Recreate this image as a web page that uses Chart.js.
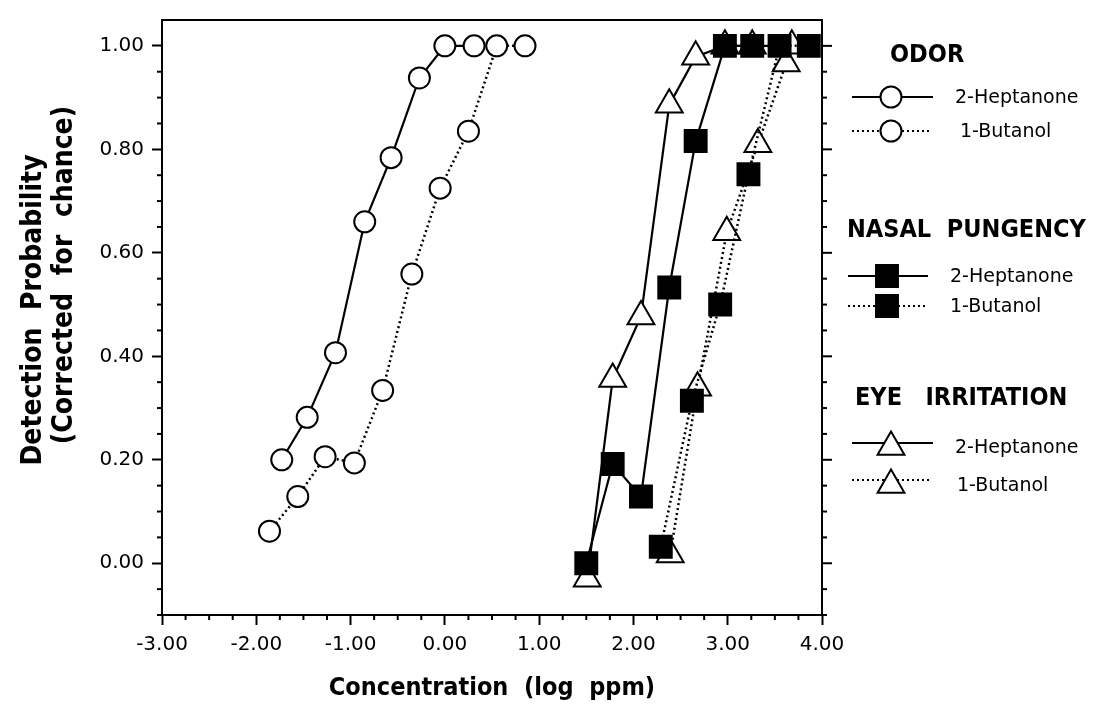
<!DOCTYPE html>
<html lang="en">
<head>
<meta charset="UTF-8" />
<title>Detection probability vs concentration</title>
<script src="https://cdn.jsdelivr.net/npm/chart.js"></script>
<style>
  body { margin: 0; background: #fff; }
  #wrap { width: 1093px; height: 709px; }
</style>
</head>
<body>
<div id="wrap"><canvas id="chart" width="1093" height="709"></canvas></div>

<script>
// values: [log ppm, probability]
const odorHeptanone = [[-1.73,0.20],[-1.46,0.282],[-1.16,0.407],[-0.85,0.66],[-0.57,0.784],[-0.27,0.938],[0.00,1.00],[0.31,1.00]];
const odorButanol   = [[-1.86,0.062],[-1.56,0.129],[-1.27,0.206],[-0.96,0.194],[-0.66,0.334],[-0.35,0.559],[-0.05,0.725],[0.25,0.835],[0.55,1.00],[0.85,1.00]];
const nasalHeptanone = [[1.50,0.00],[1.78,0.192],[2.08,0.129],[2.38,0.533],[2.66,0.816],[2.97,1.00],[3.26,1.00]];
const nasalButanol   = [[2.29,0.032],[2.62,0.314],[2.92,0.50],[3.22,0.752],[3.55,1.00],[3.86,1.00]];
const eyeHeptanone = [[1.51,-0.03],[1.78,0.356],[2.08,0.477],[2.38,0.886],[2.66,0.979],[2.97,1.00],[3.26,1.00],[3.68,1.00]];
const eyeButanol   = [[2.39,0.017],[2.68,0.339],[2.99,0.64],[3.32,0.81],[3.62,0.966]];

const yLabels = [0, 0.2, 0.4, 0.6, 0.8, 1.0];

const tickFont = { family: 'DejaVu Sans', size: 20 };
const boldFont = '"DejaVu Sans Condensed", "DejaVu Sans", sans-serif';

const pts = arr => arr.map(p => ({ x: p[0], y: p[1] }));

function series(label, data, style, dotted, order) {
  return {
    label,
    data: pts(data),
    pointStyle: style,
    pointRadius: style === 'rect' ? 15.5 : style === 'triangle' ? 15.5 : 10.5,
    pointBorderWidth: 2,
    pointBackgroundColor: style === 'rect' ? '#000' : '#fff',
    pointBorderColor: '#000',
    borderColor: '#000',
    borderWidth: dotted ? 2.5 : 2.2,
    borderDash: dotted ? [2, 3] : [],
    showLine: true,
    fill: false,
    tension: 0,
    clip: false,
    order
  };
}

function line(ctx, x1, y1, x2, y2) {
  ctx.beginPath(); ctx.moveTo(x1, y1); ctx.lineTo(x2, y2); ctx.stroke();
}

function vText(ctx, text, x, y) {
  ctx.save();
  ctx.translate(x, y);
  ctx.rotate(-Math.PI / 2);
  ctx.fillText(text, 0, 0);
  ctx.restore();
}

const decor = {
  id: 'decor',
  afterDraw(chart) {
    const { ctx, chartArea: a, scales: { x, y } } = chart;
    ctx.save();
    ctx.strokeStyle = '#000';
    ctx.lineWidth = 2;
    ctx.setLineDash([]);
    // frame top and right
    line(ctx, a.left - 1, a.top, a.right + 1, a.top);
    line(ctx, a.right, a.top, a.right, a.bottom + 1);

    // minor ticks on y (left), all ticks on right side
    for (let i = -2; i <= 20; i++) {
      const py = y.getPixelForValue(i * 0.05);
      const major = i % 4 === 0 && i >= 0;
      if (!major) line(ctx, a.left - 5, py, a.left, py);
      line(ctx, a.right, py, a.right + (major ? 10 : 5), py);
    }
    // minor ticks on x
    for (let i = -12; i <= 16; i++) {
      if (i % 4 === 0) continue;
      const px = x.getPixelForValue(i * 0.25);
      line(ctx, px, a.bottom, px, a.bottom + 5);
    }

    // axis titles
    ctx.fillStyle = '#000';
    ctx.textAlign = 'center';
    ctx.textBaseline = 'middle';
    ctx.font = 'bold 25px ' + boldFont;
    ctx.fillText('Concentration  (log  ppm)', (a.left + a.right) / 2, 688);
    ctx.font = 'bold 28px ' + boldFont;
    vText(ctx, 'Detection  Probability', 34, 310);
    vText(ctx, '(Corrected  for  chance)', 65, 275);

    // legend
    const groups = [
      { title: 'ODOR', tx: 890, ty: 55, style: 'circle', r: 10.5,
        rows: [{ y: 97, mx: 891, l: 852, r: 933, tx: 955, text: '2-Heptanone', dotted: false },
               { y: 131, mx: 891, l: 852, r: 931, tx: 960, text: '1-Butanol', dotted: true }] },
      { title: 'NASAL  PUNGENCY', tx: 847, ty: 230, style: 'rect', r: 15.5,
        rows: [{ y: 276, mx: 887, l: 848, r: 928, tx: 950, text: '2-Heptanone', dotted: false },
               { y: 306, mx: 887, l: 848, r: 926, tx: 950, text: '1-Butanol', dotted: true }] },
      { title: 'EYE   IRRITATION', tx: 855, ty: 398, style: 'triangle', r: 15.5,
        rows: [{ y: 443, my: 447, mx: 891, l: 852, r: 933, tx: 955, text: '2-Heptanone', dotted: false },
               { y: 480, my: 485, mx: 891, l: 852, r: 931, tx: 957, text: '1-Butanol', dotted: true }] }
    ];
    ctx.textAlign = 'left';
    groups.forEach(g => {
      ctx.font = 'bold 25px ' + boldFont;
      ctx.fillStyle = '#000';
      ctx.fillText(g.title, g.tx, g.ty);
      g.rows.forEach(rw => {
        ctx.lineWidth = 2;
        ctx.setLineDash(rw.dotted ? [2, 3] : []);
        line(ctx, rw.l, rw.y, rw.r, rw.y);
        ctx.setLineDash([]);
        ctx.fillStyle = g.style === 'rect' ? '#000' : '#fff';
        ctx.strokeStyle = '#000';
        Chart.helpers.drawPoint(ctx, { pointStyle: g.style, radius: g.r, borderWidth: 2, rotation: 0 },
          rw.mx, rw.my || rw.y);
        ctx.fillStyle = '#000';
        ctx.font = '19px "DejaVu Sans", sans-serif';
        ctx.fillText(rw.text, rw.tx, (rw.my || rw.y) + 1);
      });
    });
    ctx.restore();
  }
};

new Chart(document.getElementById('chart'), {
  type: 'scatter',
  data: {
    datasets: [
      series('Odor 2-Heptanone', odorHeptanone, 'circle', false, 3),
      series('Odor 1-Butanol', odorButanol, 'circle', true, 3),
      series('Nasal pungency 2-Heptanone', nasalHeptanone, 'rect', false, 1),
      series('Nasal pungency 1-Butanol', nasalButanol, 'rect', true, 1),
      series('Eye irritation 2-Heptanone', eyeHeptanone, 'triangle', false, 2),
      series('Eye irritation 1-Butanol', eyeButanol, 'triangle', true, 2)
    ]
  },
  options: {
    responsive: false,
    animation: false,
    layout: { padding: { top: 16, right: 271, left: 0, bottom: 0 } },
    plugins: { legend: { display: false }, tooltip: { enabled: false } },
    scales: {
      x: {
        type: 'linear',
        min: -3, max: 4,
        afterFit: s => { s.height = 94; },
        ticks: { stepSize: 1, color: '#000', font: tickFont, padding: 8,
                 callback: v => Number(v).toFixed(2) },
        grid: { drawOnChartArea: false, tickLength: 10, tickWidth: 2, tickColor: '#000' },
        border: { color: '#000', width: 2 }
      },
      y: {
        type: 'linear',
        min: -0.1, max: 1.05,
        afterFit: s => { s.width = 162; },
        afterBuildTicks: s => { s.ticks = yLabels.map(v => ({ value: v })); },
        ticks: { color: '#000', font: tickFont, padding: 8,
                 callback: v => Number(v).toFixed(2) },
        grid: { drawOnChartArea: false, tickLength: 10, tickWidth: 2, tickColor: '#000' },
        border: { color: '#000', width: 2 }
      }
    }
  },
  plugins: [decor]
});
</script>
</body>
</html>
